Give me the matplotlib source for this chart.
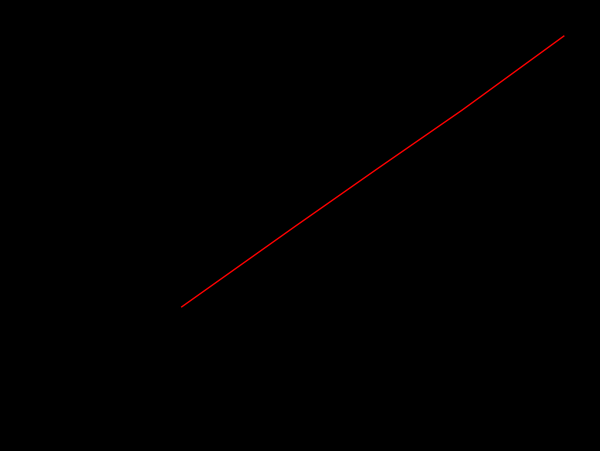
import matplotlib
matplotlib.use("Agg")
import matplotlib.pyplot as plt
from matplotlib.ticker import FixedLocator, FixedFormatter, NullLocator

plt.rcParams['font.family'] = ['Liberation Sans', 'DejaVu Sans']

# Standard curve
conc = [62.4, 243, 657, 1799, 6110]
od = [0.0299, 0.118, 0.318, 0.857, 3.04]

x_ticks = [100, 1000]
x_labels = ['100', '1000']
y_ticks = [0.01, 0.1, 1]
y_labels = ['0.01', '0.1', '1']

fig = plt.figure(figsize=(6, 4.51), dpi=100, facecolor='black')
ax = fig.add_axes([100 / 600, 80 / 451, 480 / 600, 351 / 451])
ax.set_facecolor('black')

ax.plot(conc, od, color='red', lw=1)

ax.set_xscale('log')
ax.set_yscale('log')
ax.set_xlim(23.4, 7420)
ax.set_ylim(0.01, 4.0)

ax.xaxis.set_major_locator(FixedLocator(x_ticks))
ax.xaxis.set_major_formatter(FixedFormatter(x_labels))
ax.xaxis.set_minor_locator(NullLocator())
ax.yaxis.set_major_locator(FixedLocator(y_ticks))
ax.yaxis.set_major_formatter(FixedFormatter(y_labels))
ax.yaxis.set_minor_locator(NullLocator())

ax.tick_params(axis='x', colors='black', labelsize=7, pad=8, length=0)
ax.tick_params(axis='y', colors='black', labelsize=9, pad=5, length=0)
for s in ax.spines.values():
    s.set_color('black')

ax.set_xlabel('mTNFRSF11B  concentration(pg/ml)', color='black', fontsize=12, labelpad=4)
ax.set_ylabel('Corrected OD(450nm-570nm)', color='black', fontsize=12, labelpad=30)

fig.savefig('out.png', dpi=100, facecolor='black')
